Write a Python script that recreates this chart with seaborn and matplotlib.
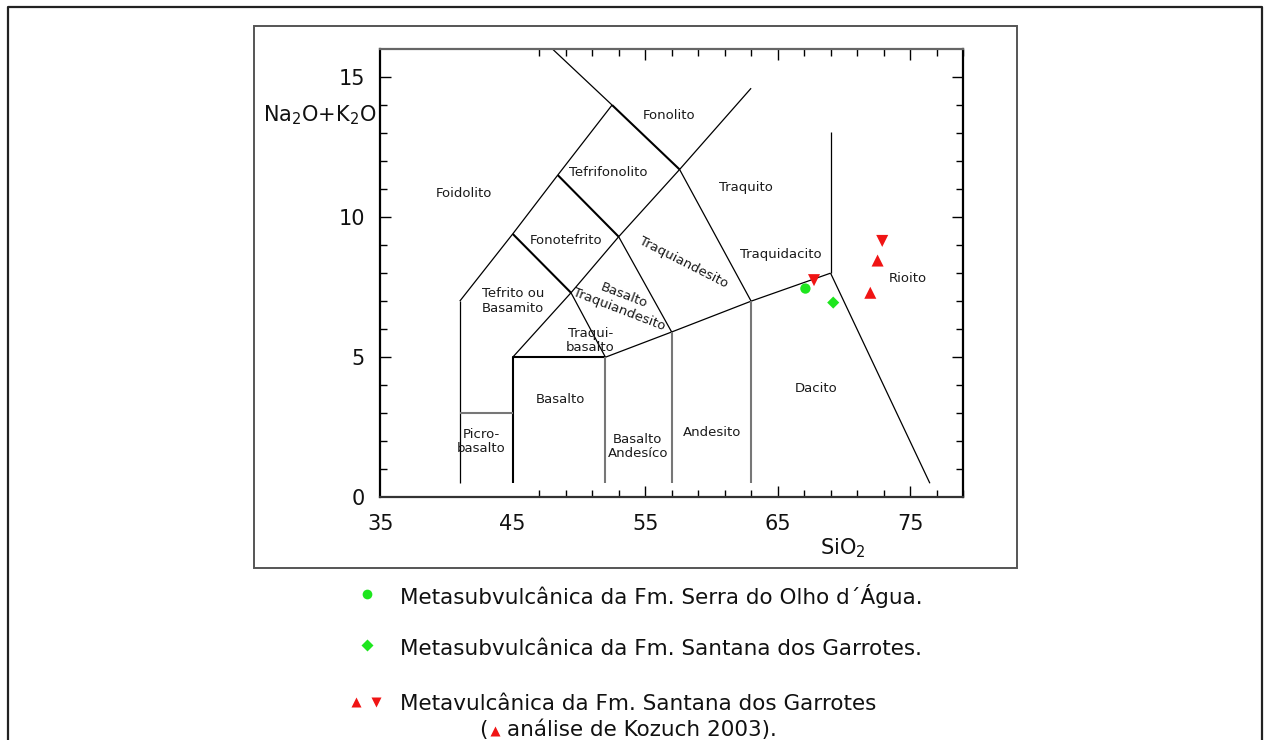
import matplotlib
matplotlib.use("Agg")
import matplotlib.pyplot as plt
import seaborn as sns
import pandas as pd
from matplotlib.lines import Line2D
from matplotlib.patches import Rectangle
from matplotlib.ticker import FixedLocator

# ---------------- data ----------------
# samples (SiO2, Na2O+K2O)
serra_si = [67.1]
serra_alk = [7.45]
santana_sub_si = [69.2]
santana_sub_alk = [6.95]
meta_down_si = [67.75, 72.9]
meta_down_alk = [7.75, 9.15]
kozuch_up_si = [72.55, 72.0]
kozuch_up_alk = [8.45, 7.3]

# TAS boundaries (polylines of (SiO2, alkalis))
thin_lines = [
    [(41, 0.5), (41, 7)],
    [(41, 7), (45, 9.4), (48.4, 11.5), (52.5, 14)],
    [(52.5, 14), (48.0, 16)],
    [(57.6, 11.7), (63, 14.6)],
    [(53, 9.3), (57.6, 11.7)],
    [(45, 5), (49.4, 7.3), (53, 9.3)],
    [(49.4, 7.3), (52, 5)],
    [(53, 9.3), (57, 5.9)],
    [(57.6, 11.7), (63, 7)],
    [(52, 5), (57, 5.9), (63, 7), (69, 8)],
    [(69, 8), (76.5, 0.5)],
    [(69, 8), (69, 13.05)],
]
thick_lines = [
    [(45, 9.4), (49.4, 7.3)],
    [(48.4, 11.5), (53, 9.3)],
    [(52.5, 14), (57.6, 11.7)],
    [(45, 0.5), (45, 5), (52, 5)],
]
grey_lines = [
    [(52, 0.5), (52, 5)],
    [(57, 0.5), (57, 5.9)],
    [(63, 0.5), (63, 7)],
    [(41, 3), (45, 3)],
]

region_names = ["Fonolito", "Foidolito", "Tefrifonolito", "Traquito", "Fonotefrito",
                "Traquiandesito", "Traquidacito", "Rioito", "Tefrito ou\nBasamito",
                "Basalto\nTraquiandesito", "Traqui-\nbasalto", "Basalto",
                "Picro-\nbasalto", "Basalto\nAndesíco", "Andesito", "Dacito"]
region_x = [56.77, 41.3, 52.2, 62.6, 49.0, 57.9, 65.25, 74.85, 45.0,
            53.2, 50.85, 48.6, 42.6, 54.45, 60.05, 67.9]
region_y = [13.62, 10.83, 11.58, 11.05, 9.15, 8.37, 8.65, 7.8, 7.0,
            6.95, 5.59, 3.48, 2.0, 1.82, 2.32, 3.87]
region_rot = [0, 0, 0, 0, 0, -27, 0, 0, 0, -21, 0, 0, 0, 0, 0, 0]

x_ticks = [35, 45, 55, 65, 75]
y_ticks = [0, 5, 10, 15]

legend_labels = ["Metasubvulcânica da Fm. Serra do Olho d´Água.",
                 "Metasubvulcânica da Fm. Santana dos Garrotes.",
                 "Metavulcânica da Fm. Santana dos Garrotes",
                 "análise de Kozuch 2003)."]

GREEN = "#1ee61e"
RED = "#f01414"

# ---------------- figure ----------------
sns.set_theme(style="ticks")
plt.rcParams['font.family'] = ['DejaVu Sans']

W, H = 1264, 740
fig = plt.figure(figsize=(W / 100, H / 100), dpi=100)
fig.patch.set_facecolor("white")

def fx(px):
    return px / W

def fy(py):
    return 1 - py / H

# outer frame and inner frame
fig.add_artist(Line2D([fx(8), fx(8), fx(1262), fx(1262)], [0, fy(7), fy(7), 0],
                      transform=fig.transFigure, color="#222222", lw=1.6))
fig.add_artist(Rectangle((fx(254), fy(567.5)), fx(1017) - fx(254), fy(26) - fy(567.5),
                         transform=fig.transFigure, fill=False, ec="#555555", lw=1.4))

ax = fig.add_axes([fx(380.3), fy(497.3), fx(963) - fx(380.3), fy(49) - fy(497.3)])
ax.set_facecolor("white")
ax.set_xlim(35, 79)
ax.set_ylim(0, 16)

for seg in thin_lines:
    xs, ys = zip(*seg)
    ax.plot(xs, ys, color="black", lw=0.9, solid_capstyle="butt")
for seg in thick_lines:
    xs, ys = zip(*seg)
    ax.plot(xs, ys, color="black", lw=1.5, solid_capstyle="butt")
for seg in grey_lines:
    xs, ys = zip(*seg)
    ax.plot(xs, ys, color="#777777", lw=1.5, solid_capstyle="butt")

for name, x, y, r in zip(region_names, region_x, region_y, region_rot):
    ax.text(x, y, name, ha="center", va="center", rotation=r, fontsize=9.5,
            color="#1a1a1a", linespacing=1.15, rotation_mode="anchor")

sns.scatterplot(x=serra_si, y=serra_alk, marker="o", color=GREEN, s=55,
                edgecolor="none", ax=ax, zorder=5)
sns.scatterplot(x=santana_sub_si, y=santana_sub_alk, marker="D", color=GREEN, s=38,
                edgecolor="none", ax=ax, zorder=5)
sns.scatterplot(x=meta_down_si, y=meta_down_alk, marker="v", color=RED, s=75,
                edgecolor="none", ax=ax, zorder=5)
sns.scatterplot(x=kozuch_up_si, y=kozuch_up_alk, marker="^", color=RED, s=75,
                edgecolor="none", ax=ax, zorder=5)

# axes styling
for sp in ax.spines.values():
    sp.set_color("black")
    sp.set_linewidth(1.6)
    sp.set_visible(True)
ax.spines["top"].set_color("#666666")
ax.spines["bottom"].set_color("#333333")

ax.set_xticks(x_ticks)
ax.set_yticks(y_ticks)
ax.xaxis.set_minor_locator(FixedLocator(list(range(47, 80, 2))))
ax.yaxis.set_minor_locator(FixedLocator(list(range(1, 16))))
ax.tick_params(which="both", direction="in", top=True, right=True, colors="black",
               labelcolor="#111111")
ax.tick_params(which="major", length=8, width=1.0, labelsize=15)
ax.tick_params(which="minor", length=5, width=1.0)
ax.tick_params(axis="y", which="major", pad=11)
ax.tick_params(axis="x", which="major", pad=12)
for t in ax.xaxis.get_major_ticks()[:2]:
    t.tick1line.set_visible(False)
    t.tick2line.set_visible(False)
ax.yaxis.get_major_ticks()[0].tick1line.set_visible(False)
ax.yaxis.get_major_ticks()[0].tick2line.set_visible(False)
ax.grid(False)

ax.set_ylabel(r"Na$_2$O+K$_2$O", rotation=0, fontsize=15, ha="center", va="center",
              color="#111111")
ax.yaxis.set_label_coords(-0.1035, 0.853)
ax.set_xlabel(r"SiO$_2$", fontsize=15, ha="center", va="center", color="#111111")
ax.xaxis.set_label_coords(0.794, -0.113)

# ---------------- legend ----------------
LF = ['DejaVu Sans']
fs = 15.5
fig.add_artist(Line2D([fx(367)], [fy(594)], marker="o", color=GREEN, ms=7, mec="none",
                      transform=fig.transFigure))
fig.text(fx(400), fy(596), legend_labels[0], fontsize=fs, family=LF, va="center", ha="left",
         color="#111111")
fig.add_artist(Line2D([fx(367)], [fy(645)], marker="D", color=GREEN, ms=6, mec="none",
                      transform=fig.transFigure))
fig.text(fx(400), fy(649), legend_labels[1], fontsize=fs, family=LF, va="center", ha="left",
         color="#111111")
fig.add_artist(Line2D([fx(356)], [fy(702)], marker="^", color=RED, ms=7, mec="none",
                      transform=fig.transFigure))
fig.add_artist(Line2D([fx(376)], [fy(702)], marker="v", color=RED, ms=7, mec="none",
                      transform=fig.transFigure))
fig.text(fx(400), fy(704), legend_labels[2], fontsize=fs, family=LF, va="center", ha="left",
         color="#111111")
fig.text(fx(479), fy(730), "(", fontsize=fs, family=LF, va="center", ha="left",
         color="#111111")
fig.add_artist(Line2D([fx(495)], [fy(731)], marker="^", color=RED, ms=7, mec="none",
                      transform=fig.transFigure))
fig.text(fx(507), fy(730), legend_labels[3], fontsize=fs, family=LF, va="center", ha="left",
         color="#111111")

fig.savefig("out.png", dpi=100, facecolor="white")
